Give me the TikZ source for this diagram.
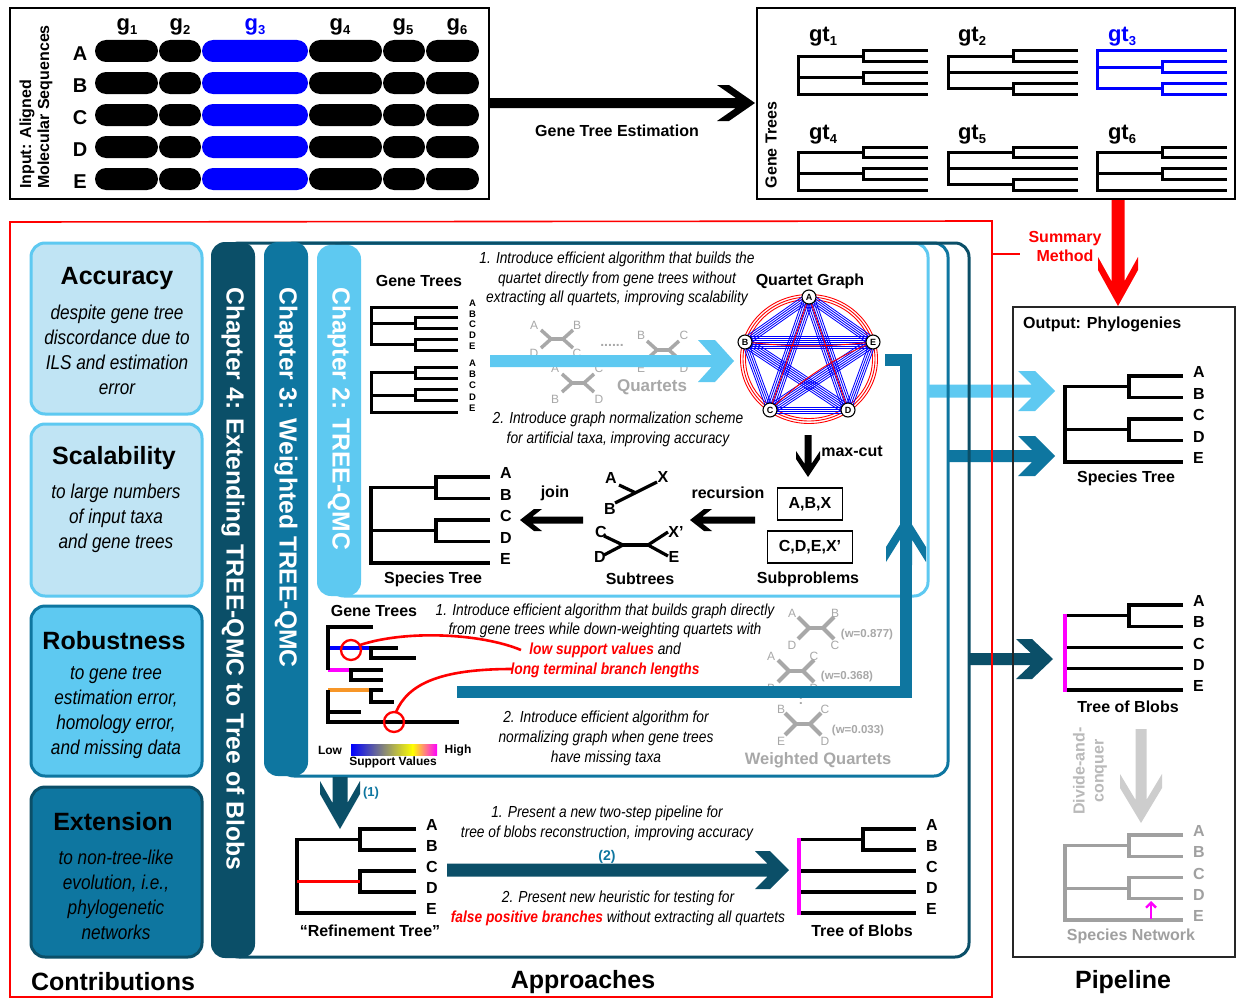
\documentclass[tikz,border=0pt]{standalone}
\usepackage{fontspec}
\setmainfont{Liberation Sans}
\newfontfamily\nitfont[FakeStretch=0.86]{Liberation Sans}
\usetikzlibrary{calc,arrows.meta}

\definecolor{chtwo}{RGB}{94,201,241}
\definecolor{chthree}{RGB}{14,118,160}
\definecolor{chfour}{RGB}{11,79,104}
\definecolor{accfill}{RGB}{192,228,244}
\definecolor{qgrey}{RGB}{168,168,168}
\definecolor{netgrey}{RGB}{160,160,160}
\definecolor{dcgrey}{RGB}{205,205,205}
\definecolor{dctext}{RGB}{185,185,185}
\definecolor{gblue}{RGB}{0,0,255}
\definecolor{mag}{RGB}{255,0,255}
\definecolor{sred}{RGB}{255,0,0}
\definecolor{gorange}{RGB}{247,150,40}

% ((A,B),(C,D),E): root x, cherry x, leaf end x, first leaf y, leaf spacing
\newcommand\treeone[5]{%
  \draw (#3,#4) -- (#2,#4) -- (#2,{#4+#5}) -- (#3,{#4+#5});
  \draw (#3,{#4+2*#5}) -- (#2,{#4+2*#5}) -- (#2,{#4+3*#5}) -- (#3,{#4+3*#5});
  \draw (#2,{#4+0.5*#5}) -- (#1,{#4+0.5*#5}) -- (#1,{#4+4*#5}) -- (#3,{#4+4*#5});
  \draw (#1,{#4+2.5*#5}) -- (#2,{#4+2.5*#5});}
% ((A,B),C,(D,E))
\newcommand\treetwo[5]{%
  \draw (#3,#4) -- (#2,#4) -- (#2,{#4+#5}) -- (#3,{#4+#5});
  \draw (#3,{#4+3*#5}) -- (#2,{#4+3*#5}) -- (#2,{#4+4*#5}) -- (#3,{#4+4*#5});
  \draw (#2,{#4+0.5*#5}) -- (#1,{#4+0.5*#5}) -- (#1,{#4+3.5*#5}) -- (#2,{#4+3.5*#5});
  \draw (#1,{#4+2*#5}) -- (#3,{#4+2*#5});}
% (A,(B,C),(D,E))
\newcommand\treethree[5]{%
  \draw (#3,{#4+#5}) -- (#2,{#4+#5}) -- (#2,{#4+2*#5}) -- (#3,{#4+2*#5});
  \draw (#3,{#4+3*#5}) -- (#2,{#4+3*#5}) -- (#2,{#4+4*#5}) -- (#3,{#4+4*#5});
  \draw (#3,#4) -- (#1,#4) -- (#1,{#4+3.5*#5}) -- (#2,{#4+3.5*#5});
  \draw (#1,{#4+1.5*#5}) -- (#2,{#4+1.5*#5});}
% taxon labels: x, first leaf y, spacing, style, name prefix
\newcommand\taxa[5]{%
  \foreach \tx [count=\k from 0] in {A,B,C,D,E}
    \node[#4, anchor=west] (#5\tx) at (#1,{#2+\k*#3-4}) {\tx};}
% striped band of parallel edges in the quartet graph
\newcommand\qband[3]{%
  \foreach \o in {#3}
    \draw[gblue, line width=0.85pt] ($(#1)!\o pt!90:(#2)$) -- ($(#2)!\o pt!-90:(#1)$);}
\newcommand\subn[1]{\raisebox{-4pt}{\fontsize{13}{13}\selectfont #1}}

\tikzset{
  pics/chev/.style n args={5}{code={%
    \fill (-#1,-#2) -- ({-#5-#4*#2/#3},-#2) -- ({-#4-#5},-#3) -- (-#4,-#3) -- (0,0)
       -- (-#4,#3) -- ({-#4-#5},#3) -- ({-#5-#4*#2/#3},#2) -- (-#1,#2) -- cycle;}},
  pics/qtet/.style n args={3}{code={%
    \draw (-#1-#2,-#3) -- (-#1,0) -- (-#1-#2,#3);
    \draw (-#1,0) -- (#1,0);
    \draw (#1+#2,-#3) -- (#1,0) -- (#1+#2,#3);}},
  tl/.style={line width=3.2pt},
  bt/.style={font=\bfseries\fontsize{16}{19}\selectfont, inner sep=0pt},
  leaf/.style={font=\bfseries\fontsize{16}{16}\selectfont, inner sep=0pt},
  tiny/.style={font=\bfseries\fontsize{9.5}{9.5}\selectfont, inner sep=0pt},
  rowlbl/.style={font=\bfseries\fontsize{20}{20}\selectfont, inner sep=0pt},
  glbl/.style={font=\bfseries\fontsize{22}{22}\selectfont, inner sep=0pt, anchor=base},
  head/.style={font=\bfseries\fontsize{25}{30}\selectfont, inner sep=0pt},
  body/.style={font=\nitfont\itshape\fontsize{20}{25}\selectfont, align=center, inner sep=0pt},
  note/.style={font=\nitfont\itshape\fontsize{16}{19.6}\selectfont, align=center, inner sep=0pt},
  chlbl/.style={font=\bfseries\fontsize{24.7}{30}\selectfont, text=white, inner sep=0pt, rotate=-90, anchor=west},
  qlbl/.style={font=\fontsize{12}{12}\selectfont, text=qgrey, inner sep=0pt},
  wlbl/.style={font=\bfseries\fontsize{11.5}{12}\selectfont, text=qgrey, inner sep=0pt},
  qn/.style={circle, draw=black, fill=white, line width=1.1pt, inner sep=0pt, minimum size=14pt,
    font=\bfseries\fontsize{9}{9}\selectfont},
  ubox/.style={draw, line width=1.2pt, bt, minimum height=32pt},
}

\begin{document}
\begin{tikzpicture}[x=1pt, y=-1pt, line join=miter]
\useasboundingbox (0,0) rectangle (1236,998);
\fill[white] (0,0) rectangle (1236,998);

%% ---------- input alignment ----------
\draw[line width=1.2pt] (10,8) rectangle (489,199);
\node[bt, rotate=90, anchor=west] (inp1) at (27,189) {Input: Aligned};
\node[bt, rotate=90, anchor=west] (inp2) at (45,189) {Molecular Sequences};
\foreach \x/\n in {127/1,180/2,340/4,403/5,457/6}
  \node[glbl] (g\n) at (\x,31) {g\subn{\n}};
\node[glbl, text=gblue] (g3) at (255,31) {g\subn{3}};
\foreach \y/\r in {51/A,83/B,115/C,147/D,179/E} {
  \node[rowlbl] (row\r) at (80,\y+3) {\r};
  \foreach \a/\b in {95/158,159/201,309/382,383/425,426/479}
    \fill[black, rounded corners=11pt] (\a,\y-11) rectangle (\b,\y+11);
  \fill[gblue, rounded corners=11pt] (202,\y-11) rectangle (308,\y+11);
}

%% ---------- gene tree estimation ----------
\pic[color=black] at (755,103) {chev={265}{5}{18}{26}{12}};
\node[bt] (gte) at (617,131) {Gene Tree Estimation};

\draw[line width=1.2pt] (757,8) rectangle (1235,199);
\node[bt, rotate=90] (gtl) at (771,145) {Gene Trees};
\begin{scope}[line width=3pt]
  \treeone{798}{863}{928}{51}{10.75}
  \treetwo{948}{1013}{1078}{51}{10.75}
  \begin{scope}[gblue]\treethree{1097}{1162}{1227}{51}{10.75}\end{scope}
  \treeone{798}{863}{928}{147}{10.75}
  \treetwo{948}{1013}{1078}{147}{10.75}
  \treeone{1097}{1162}{1227}{147}{10.75}
\end{scope}
\node[glbl] (gt1) at (823,42) {gt\subn{1}};
\node[glbl] (gt2) at (972,42) {gt\subn{2}};
\node[glbl, text=gblue] (gt3) at (1122,42) {gt\subn{3}};
\node[glbl] (gt4) at (823,139) {gt\subn{4}};
\node[glbl] (gt5) at (972,139) {gt\subn{5}};
\node[glbl] (gt6) at (1122,139) {gt\subn{6}};

%% ---------- summary method ----------
\pic[color=sred, rotate=-90] at (1118,306) {chev={106}{6.5}{20}{36}{13}};
\node[bt, text=sred, align=center] (summ) at (1065,246) {Summary\\Method};

%% ---------- arrows into the output ----------
\pic[color=chtwo] at (1055,391) {chev={127}{6.5}{20}{20}{17}};
\pic[color=chthree] at (1055,456) {chev={107}{6}{20}{20}{17}};
\pic[color=chfour] at (1053,659) {chev={85}{6}{20}{21}{16}};

%% ---------- chapter frames ----------
\draw[chtwo, line width=3pt, rounded corners=14pt] (330,243) rectangle (928,596);
\draw[chthree, line width=3pt, rounded corners=14pt] (280,243) rectangle (948,776);
\draw[chfour, line width=3pt, rounded corners=14pt] (225,243) rectangle (969,957);
\fill[chfour, rounded corners=14pt] (211,242) rectangle (255,958);
\fill[chthree, rounded corners=14pt] (264,242) rectangle (308,776);
\fill[chtwo, rounded corners=14pt] (317,245) rectangle (361,596);
\node[chlbl] (ch4) at (233,287) {Chapter 4: Extending TREE-QMC to Tree of Blobs};
\node[chlbl] (ch3) at (286,287) {Chapter 3: Weighted TREE-QMC};
\node[chlbl] (ch2) at (339,287) {Chapter 2: TREE-QMC};

%% ---------- chapter 2 ----------
\node[bt] (c2gt) at (419,281) {Gene Trees};
\begin{scope}[line width=3pt]
  \treethree{371}{415}{458}{307}{10.75}
  \treeone{371}{415}{458}{367}{11.25}
\end{scope}
\taxa{469}{307}{10.75}{tiny}{ga}
\taxa{469}{367}{11.25}{tiny}{gb}

\node[note] (c2n1) at (617,279) {1. Introduce efficient algorithm that builds the\\quartet directly from gene trees without\\extracting all quartets, improving scalability};
\node[note] (c2n2) at (618,429.5) {2. Introduce graph normalization scheme\\for artificial taxa, improving accuracy};

% quartets
\pic[color=qgrey, line width=3.5pt] at (557,339) {qtet={6}{10}{9}};
\pic[color=qgrey, line width=3.5pt] at (663,350) {qtet={6}{10}{9}};
\pic[color=qgrey, line width=3.5pt] at (578,383) {qtet={6}{10}{9}};
\node[qlbl] (q1a) at (534,325) {A};
\node[qlbl] (q1b) at (577,325) {B};
\node[qlbl] (q1d) at (534,353) {D};
\node[qlbl] (q1c) at (577,353) {C};
\node[qlbl] (q2b) at (641,335) {B};
\node[qlbl] (q2c) at (684,335) {C};
\node[qlbl] (q2e) at (641,368) {E};
\node[qlbl] (q2d) at (684,368) {D};
\node[qlbl] (q3a) at (555,368) {A};
\node[qlbl] (q3c) at (599,368) {C};
\node[qlbl] (q3b) at (555,399) {B};
\node[qlbl] (q3d) at (599,399) {D};
\node[font=\bfseries\fontsize{14}{14}\selectfont, text=qgrey, inner sep=0pt] (qdots) at (612,345) {......};
\node[font=\bfseries\fontsize{17}{17}\selectfont, text=qgrey, inner sep=0pt] (qlab) at (652,387) {Quartets};
\pic[color=chtwo] at (734,361) {chev={244}{6}{21}{19}{17}};

% quartet graph
\node[bt] (qgt) at (810,281) {Quartet Graph};
\coordinate (pA) at (809,297);
\coordinate (pB) at (745,342);
\coordinate (pE) at (873,342);
\coordinate (pC) at (770,410);
\coordinate (pD) at (848,410);
\draw[sred, line width=0.9pt] (809,359) ellipse [x radius=63.5pt, y radius=59.5pt];
\draw[sred, line width=0.9pt] (809,359) ellipse [x radius=66pt, y radius=62pt];
\draw[sred, line width=0.9pt] (809,359) ellipse [x radius=68.5pt, y radius=64.5pt];
\qband{pB}{pE}{-6,-4,-2,0,2,4,6}
\qband{pA}{pC}{-5,-3,-1,1,3,5}
\qband{pA}{pD}{-5,-3,-1,1,3,5}
\qband{pB}{pD}{-5,-3,-1,1,3,5}
\qband{pC}{pE}{-5,-3,-1,1,3,5}
\qband{pA}{pB}{-4,-2,0,2,4}
\qband{pA}{pE}{-4,-2,0,2,4}
\qband{pB}{pC}{-3,-1,1,3}
\qband{pD}{pE}{-3,-1,1,3}
\qband{pC}{pD}{-3,-1,1,3}
\draw[sred, line width=0.9pt] (pA) -- (pC);
\draw[sred, line width=0.9pt] (pA) -- (pD);
\draw[sred, line width=0.9pt] (pB) to[bend right=6] (pE);
\draw[sred, line width=0.9pt] (pC) to[bend left=10] (pE);
\node[qn] (qA) at (pA) {A};
\node[qn] (qB) at (pB) {B};
\node[qn] (qE) at (pE) {E};
\node[qn] (qC) at (pC) {C};
\node[qn] (qD) at (pD) {D};

\pic[color=black, rotate=-90] at (808,477) {chev={42}{3.5}{12}{18}{8}};
\node[bt] (mc) at (852,451) {max-cut};
\node[ubox, minimum width=65pt] (sp1) at (810,504) {A,B,X};
\node[ubox, minimum width=85pt] (sp2) at (810,547) {C,D,E,X'};
\node[bt] (subp) at (808,579) {Subproblems};
\node[bt] (recl) at (728,493) {recursion};
\pic[color=black, rotate=180] at (690,520) {chev={65}{3.5}{11}{14}{8}};

% subtrees
\node[bt] (stA) at (611,478) {A};
\node[bt] (stX) at (663,477) {X};
\node[bt] (stB) at (610,509) {B};
\draw[line width=3.2pt] (615,503) -- (657,482);
\draw[line width=3.2pt] (619,485) -- (636,493);
\node[bt] (stC) at (601,532) {C};
\node[bt] (stD) at (600,557) {D};
\node[bt] (stXp) at (676,532) {X'};
\node[bt] (stE) at (674,557) {E};
\draw[line width=3.2pt] (604,536) -- (623,545) -- (604,555);
\draw[line width=3.2pt] (623,545) -- (648,545);
\draw[line width=3.2pt] (668,532) -- (648,545) -- (668,556);
\node[bt] (subt) at (640,579) {Subtrees};
\node[bt] (joinl) at (555,493) {join};
\pic[color=black, rotate=180] at (520,520) {chev={63}{3.5}{11}{14}{8}};

% species tree
\begin{scope}[tl]\treeone{371}{436}{490}{477}{21.5}\end{scope}
\taxa{500}{477}{21.5}{leaf}{s2}
\node[bt] (c2st) at (433,579) {Species Tree};

%% ---------- chapter 3 ----------
\node[bt] (c3gt) at (374,611) {Gene Trees};
\draw[tl, gblue] (328,648) -- (371,648);
\draw[tl, mag] (328,670) -- (351,670);
\draw[tl, gorange] (328,690) -- (371,690);
\draw[tl] (373,627) -- (328,627) -- (328,670);
\draw[tl] (398,648) -- (371,648) -- (371,658) -- (416,658);
\draw[tl] (383,670) -- (351,670) -- (351,680) -- (383,680);
\draw[tl] (383,690) -- (371,690) -- (371,702) -- (394,702);
\draw[tl] (328,690) -- (328,722) -- (459,722);
\draw[tl] (328,712) -- (361,712);
\draw[sred, line width=2.3pt] (351,650) circle (10pt);
\draw[sred, line width=2.3pt] (394,722) circle (10pt);
\draw[sred, line width=2.6pt] (360,645) .. controls (405,630) and (480,633) .. (521,650);
\draw[sred, line width=2.6pt] (396,712) .. controls (408,684) and (440,669) .. (512,669);

\shade[left color=gblue, right color=yellow] (351,744) rectangle (413,755);
\shade[left color=yellow, right color=mag] (412.5,744) rectangle (437,755);
\node[font=\bfseries\fontsize{12}{12}\selectfont, inner sep=0pt] (lowl) at (330,750) {Low};
\node[font=\bfseries\fontsize{12}{12}\selectfont, inner sep=0pt] (highl) at (458,750) {High};
\node[font=\bfseries\fontsize{12}{12}\selectfont, inner sep=0pt] (supl) at (393,762) {Support Values};

\node[note, font=\nitfont\itshape\fontsize{16}{19.7}\selectfont] (c3n1) at (605,640.5)
  {1. Introduce efficient algorithm that builds graph directly\\
   from gene trees while down-weighting quartets with\\
   {\color{sred}\bfseries low support values} and\\
   {\color{sred}\bfseries long terminal branch lengths}};
\node[note, font=\nitfont\itshape\fontsize{16}{20}\selectfont] (c3n2) at (606,738)
  {2. Introduce efficient algorithm for\\normalizing graph when gene trees\\have missing taxa};

% weighted quartets
\pic[color=qgrey, line width=4pt] at (816,628) {qtet={7}{11}{11}};
\pic[color=qgrey, line width=4pt] at (796,671) {qtet={7}{11}{11}};
\pic[color=qgrey, line width=4pt] at (803,724) {qtet={7}{11}{11}};
\node[qlbl] (w1a) at (792,613) {A};
\node[qlbl] (w1b) at (835,613) {B};
\node[qlbl] (w1d) at (792,645) {D};
\node[qlbl] (w1c) at (835,645) {C};
\node[qlbl] (w2a) at (771,656) {A};
\node[qlbl] (w2c) at (814,656) {C};
\node[qlbl] (w2b) at (771,688) {B};
\node[qlbl] (w2d) at (814,688) {D};
\node[qlbl] (w3b) at (781,709) {B};
\node[qlbl] (w3c) at (825,709) {C};
\node[qlbl] (w3e) at (781,741) {E};
\node[qlbl] (w3d) at (825,741) {D};
\node[wlbl] (w1) at (867,635) {(w=0.877)};
\node[wlbl] (w2) at (847,677) {(w=0.368)};
\node[wlbl] (w3) at (858,731) {(w=0.033)};
\node[font=\bfseries\fontsize{14}{14}\selectfont, text=qgrey, inner sep=0pt] (wdots) at (801,701) {:};
\node[font=\bfseries\fontsize{16.5}{17}\selectfont, text=qgrey, inner sep=0pt] (wql) at (818,760) {Weighted Quartets};

% chapter 3 flow into the quartet graph
\draw[chthree, line width=12pt] (457,692) -- (906,692) -- (906,360) -- (885,360);
\pic[color=chthree, rotate=90] at (906,515) {chev={50}{6}{20}{32}{15}};

%% ---------- chapter 4 ----------
\pic[color=chfour, rotate=-90] at (340,829) {chev={52}{7.5}{20}{35}{13}};
\node[font=\bfseries\fontsize{13}{13}\selectfont, text=chthree, inner sep=0pt] (one) at (371,793) {(1)};
\begin{scope}[tl]\treeone{297}{360}{416}{829}{21}\end{scope}
\draw[tl, sred] (297,881.5) -- (360,881.5);
\taxa{426}{829}{21}{leaf}{rt}
\node[bt] (reft) at (370,931) {“Refinement Tree”};

\node[note, font=\nitfont\itshape\fontsize{16}{20.5}\selectfont] (c4n1) at (607,823.5)
  {1. Present a new two-step pipeline for\\tree of blobs reconstruction, improving accuracy};
\node[note] (c4n2) at (618,908.5)
  {2. Present new heuristic for testing for\\{\color{sred}\bfseries false positive branches} without extracting all quartets};
\pic[color=chfour] at (789,870) {chev={342}{6.5}{19}{19}{15}};
\node[font=\bfseries\fontsize{14}{14}\selectfont, text=chthree, inner sep=0pt] (two) at (607,857) {(2)};

\begin{scope}[tl]
  \draw (916,829) -- (863,829) -- (863,850) -- (916,850);
  \draw (863,839.5) -- (799,839.5);
  \draw (799,871) -- (916,871);
  \draw (799,892) -- (916,892);
  \draw (799,913) -- (916,913);
  \draw[mag] (799,838) -- (799,914.5);
\end{scope}
\taxa{926}{829}{21}{leaf}{tb}
\node[bt] (c4tob) at (862,931) {Tree of Blobs};

%% ---------- summary boundary ----------
\draw[sred, line width=1.6pt] (10,222) -- (992,221) -- (992,997) -- (10,997) -- cycle;
\draw[sred, line width=1.6pt] (992,254) -- (1020,254);

%% ---------- output ----------
\draw[black!85, line width=1.2pt] (1013,307) rectangle (1235,957);
\node[bt, anchor=west] (outl) at (1023,324) {Output: Phylogenies};
\begin{scope}[tl]\treeone{1065}{1129}{1183}{376}{21.5}\end{scope}
\taxa{1193}{376}{21.5}{leaf}{os}
\node[bt] (ost) at (1126,478) {Species Tree};

\begin{scope}[tl]
  \draw (1183,605) -- (1129,605) -- (1129,626.25) -- (1183,626.25);
  \draw (1129,615.6) -- (1065,615.6);
  \draw (1065,647.5) -- (1183,647.5);
  \draw (1065,668.75) -- (1183,668.75);
  \draw (1065,690) -- (1183,690);
  \draw[mag] (1065,614) -- (1065,691.5);
\end{scope}
\taxa{1193}{605}{21.25}{leaf}{ob}
\node[bt] (otob) at (1128,707) {Tree of Blobs};

\pic[color=dcgrey, rotate=-90] at (1141,823) {chev={94}{5.5}{21}{35}{14}};
\node[bt, text=dctext, rotate=90, align=center] (dnc) at (1090,771) {Divide-and-\\conquer};
\begin{scope}[tl, netgrey]\treeone{1065}{1129}{1183}{835}{21.25}\end{scope}
\draw[mag, line width=2.4pt, -{Straight Barb[length=5pt,width=10pt]}] (1151,918.5) -- (1151,901);
\taxa{1193}{835}{21.25}{leaf, text=netgrey}{nw}
\node[bt, text=netgrey] (osn) at (1131,936) {Species Network};

%% ---------- contributions ----------
\draw[chtwo, fill=accfill, line width=3pt, rounded corners=14pt] (31,243) rectangle (202,414);
\node[head] (acc) at (117,278) {Accuracy};
\node[body] (accb) at (117,350) {despite gene tree\\discordance due to\\ILS and estimation\\error};
\draw[chtwo, fill=accfill, line width=3pt, rounded corners=14pt] (31,424) rectangle (202,596);
\node[head] (sca) at (114,458) {Scalability};
\node[body] (scab) at (116,518) {to large numbers\\of input taxa\\and gene trees};
\draw[chthree, fill=chtwo, line width=3pt, rounded corners=14pt] (31,606) rectangle (202,776);
\node[head] (rob) at (114,641) {Robustness};
\node[body] (robb) at (116,712.5) {to gene tree\\estimation error,\\homology error,\\and missing data};
\draw[chfour, fill=chthree, line width=3pt, rounded corners=14pt] (31,787) rectangle (202,957);
\node[head] (ext) at (113,822) {Extension};
\node[body] (extb) at (116,894.5) {to non-tree-like\\evolution, i.e.,\\phylogenetic\\networks};

\node[head] (contr) at (113,982) {Contributions};
\node[head] (appr) at (583,982) {Approaches};
\node[head] (pipe) at (1123,982) {Pipeline};
\end{tikzpicture}
\end{document}
